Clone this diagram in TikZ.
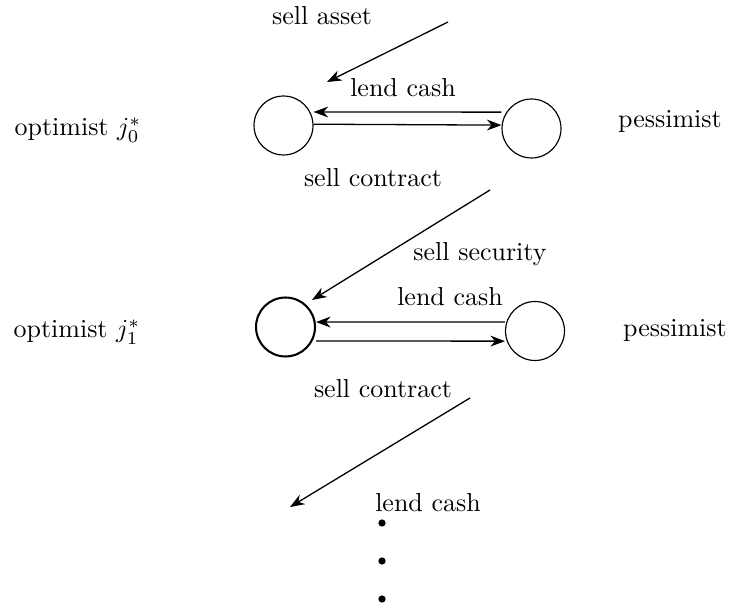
\documentclass[tikz,border=0pt]{standalone}
\usetikzlibrary{arrows.meta}
\begin{document}
\begin{tikzpicture}[x=0.385pt,y=-0.385pt,
  agent/.style={circle,draw,line width=0.45pt,minimum size=22.7pt,inner sep=0pt},
  flow/.style={-{Stealth[length=5.6pt,width=4.2pt,inset=1.8pt]},line width=0.5pt},
  lbl/.style={inner sep=0pt},
  pt/.style={circle,fill,inner sep=0pt,minimum size=2.8pt}]
\useasboundingbox (0,0) rectangle (732,611);
% row 1
\node[agent] (o0) at (283.5,125.5) {};
\node[agent] (p0) at (531.5,128.5) {};
\node[lbl] (t0) at (78,130) {optimist $j_0^*$};
\node[lbl] (q0) at (670,121) {pessimist};
\node[lbl] (sa) at (322,16) {sell asset};
\node[lbl] (lc0) at (403,88) {lend cash};
\node[lbl] (sc0) at (373,178) {sell contract};
\coordinate (a1s) at (448,22);
\coordinate (a1e) at (327,82);
\draw[flow] (a1s) -- (a1e);
\draw[flow] ([yshift=6.3pt]p0.west) -- ([yshift=5.2pt]o0.east);
\draw[flow] ([yshift=0.5pt]o0.east) -- ([yshift=1.3pt]p0.west);
% row 2
\node[agent,line width=0.8pt] (o1) at (285.5,327) {};
\node[agent] (p1) at (535,331) {};
\node[lbl] (t1) at (77,332) {optimist $j_1^*$};
\node[lbl] (q1) at (675,330) {pessimist};
\node[lbl] (ss) at (480,254) {sell security};
\node[lbl] (lc1) at (450,297) {lend cash};
\node[lbl] (sc1) at (383,389) {sell contract};
\coordinate (a2s) at (490,190);
\coordinate (a2e) at (312,300);
\draw[flow] (a2s) -- (a2e);
\draw[flow] ([yshift=3.5pt]p1.west) -- ([yshift=1.9pt]o1.east);
\draw[flow] ([yshift=-5.4pt]o1.east) -- ([yshift=-3.9pt]p1.west);
% row 3
\coordinate (a3s) at (470,398);
\coordinate (a3e) at (290,507);
\draw[flow] (a3s) -- (a3e);
\node[lbl] (lc2) at (428,503) {lend cash};
\node[pt] (d1) at (382,523) {};
\node[pt] (d2) at (382,561) {};
\node[pt] (d3) at (382,599) {};
\end{tikzpicture}
\end{document}
